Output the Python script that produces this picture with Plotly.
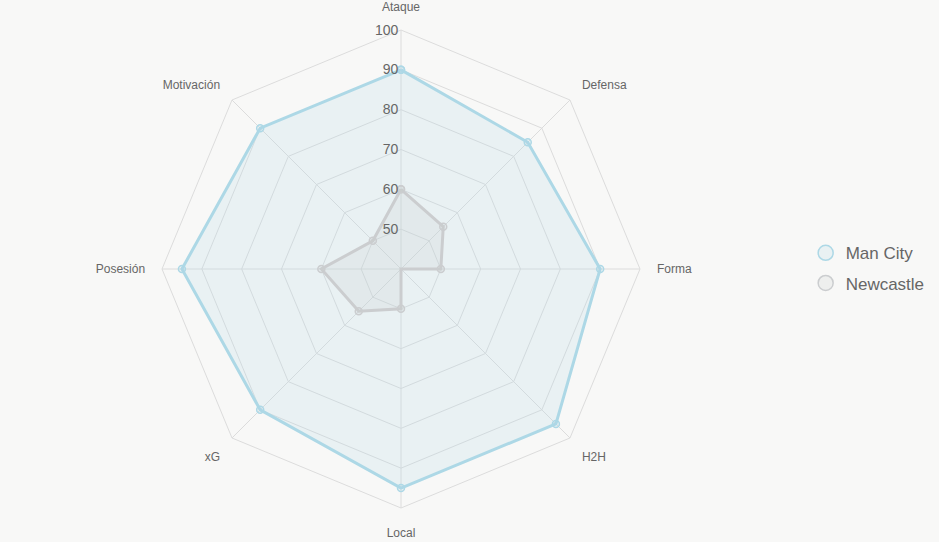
import plotly.graph_objects as go

categories = ["Ataque", "Defensa", "Forma", "H2H", "Local", "xG", "Posesión", "Motivación"]
man_city = [90, 85, 90, 95, 95, 90, 95, 90]
newcastle = [60, 55, 50, 40, 50, 55, 60, 50]
radial_ticks = [50, 60, 70, 80, 90, 100]
series_names = ["Man City", "Newcastle"]

BG = "#f8f8f7"
FONT = "Liberation Sans, Arial, Helvetica, sans-serif"

styles = [
    dict(line="rgb(173,216,230)", fill="rgba(173,216,230,0.2)"),
    dict(line="rgb(203,205,207)", fill="rgba(201,203,207,0.2)"),
]

fig = go.Figure()
for name, vals, st in zip(series_names, [man_city, newcastle], styles):
    fig.add_trace(go.Scatterpolar(
        r=vals + vals[:1], theta=categories + categories[:1],
        mode="lines+markers", fill="toself", fillcolor=st["fill"],
        line=dict(color=st["line"], width=3),
        marker=dict(size=7, color=st["fill"], line=dict(color=st["line"], width=1.5)),
        name=name, showlegend=False, legendgroup=name, hoverinfo="r+theta+name",
    ))

for name, st in zip(series_names, styles):
    fig.add_trace(go.Scatterpolar(
        r=[None], theta=[None], mode="markers", name=name, legendgroup=name,
        marker=dict(size=15, color=st["fill"], line=dict(color=st["line"], width=1.5)),
        showlegend=True,
    ))

fig.update_layout(
    width=939, height=542,
    paper_bgcolor=BG, plot_bgcolor=BG,
    margin=dict(l=0, r=0, t=0, b=0),
    font=dict(family=FONT, color="#666"),
    polar=dict(
        bgcolor=BG,
        domain=dict(x=[162/939, 640/939], y=[1-508/542, 1-30/542]),
        gridshape="linear",
        radialaxis=dict(
            range=[40, 100], tickvals=radial_ticks, angle=90, tickangle=90,
            showline=False, gridcolor="#dcdcdc", gridwidth=1,
            tickfont=dict(size=14, color="#666"), ticks="",
            side="counterclockwise",
        ),
        angularaxis=dict(
            rotation=90, direction="clockwise",
            gridcolor="#dcdcdc", linecolor="#dcdcdc", showline=True,
            tickfont=dict(size=12, color="#666"),
            ticks="outside", ticklen=14, tickcolor="rgba(0,0,0,0)",
        ),
    ),
    legend=dict(
        x=0.858, y=0.505, xanchor="left", yanchor="middle",
        font=dict(size=17, color="#666"), tracegroupgap=5,
        bgcolor="rgba(0,0,0,0)",
    ),
)

fig.write_html(
    "out.html",
    config={"displayModeBar": False},
    post_script="document.body.style.margin='0';document.body.style.padding='0';document.body.style.background='#f8f8f7';",
)
